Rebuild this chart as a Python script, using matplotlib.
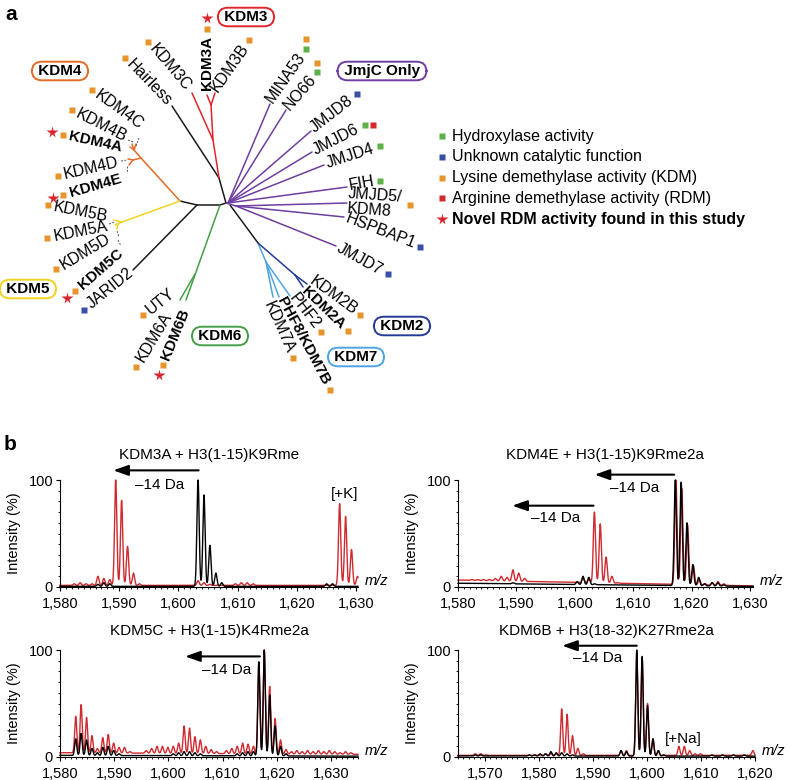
import numpy as np
import matplotlib
matplotlib.use("Agg")
import matplotlib.pyplot as plt
from matplotlib.textpath import TextPath
from matplotlib.font_manager import FontProperties
from matplotlib.ticker import MultipleLocator, FuncFormatter

plt.rcParams['font.family'] = ['Liberation Sans', 'DejaVu Sans']

W, H, DPI = 788, 780, 100

# ---------------- panel a: JmjC family tree (schematic layout, pixel units) ----------------
leaf_names = ["MINA53", "NO66", "JMJD8", "JMJD6", "JMJD4", "FIH", "JMJD5/\nKDM8", "HSPBAP1",
              "JMJD7", "KDM2B", "KDM2A", "PHF2", "PHF8/KDM7B", "KDM7A", "KDM3B", "KDM3A",
              "KDM3C", "Hairless", "KDM4C", "KDM4B", "KDM4A", "KDM4D", "KDM4E", "KDM5B",
              "KDM5A", "KDM5D", "KDM5C", "JARID2", "UTY", "KDM6A", "KDM6B"]
leaf_bold = [False, False, False, False, False, False, False, False,
             False, False, True, False, True, False, False, True,
             False, False, False, False, True, False, True, False,
             False, False, True, False, False, False, True]
# activity codes: H hydroxylase, U unknown, K KDM, R RDM, * novel RDM found here
leaf_marks = ["HK", "HK", "U", "HR", "H", "H", "K", "U",
              "U", "K", "K", "K", "K", "K", "K", "K*",
              "K", "K", "K", "K", "K*", "K", "K*", "K",
              "K", "K", "K*", "U", "K", "K", "K*"]
leaf_x = [269, 286, 312, 314, 326, 349, 348, 346, 338, 311, 304, 292, 281, 268, 214, 207,
          188, 169, 142, 126, 122, 118, 121, 108, 108, 109, 121, 132, 173, 168, 186]
leaf_y = [101, 108, 129, 151, 164, 186, 201, 218, 247, 279, 289, 295, 298, 302, 90, 90,
          89, 104, 126, 138, 148, 162, 178, 217, 226, 237, 251, 271, 291, 314, 309]
leaf_rot = [55, 49, 38, 27, 18, 10, -4, -21, -29, -36, -44, -52, -62, -66, 55, 90,
            -50, -46, -36, -27, -12.5, 13, 16, -11, 11, 31, 41, 39, 39, 59, 68]
leaf_side = list("RRRRRRRRRRRRRRRR") + list("LLLLLLLLLLLLLLL")
leaf_stack = {"MINA53": (0, -10), "NO66": (0, -9), "JMJD6": (8, 0)}

tree_edges = [
    (180, 201, 197, 205, "k"), (197, 205, 220, 205, "k"), (220, 205, 226, 203, "k"),
    (226, 203, 219, 178, "k"), (219, 178, 172, 106, "k"), (197, 205, 133, 270, "k"),
    (230, 205, 258, 243, "k"),
    (219, 178, 213, 140, "kdm3"), (213, 140, 192, 93, "kdm3"), (213, 140, 211, 105, "kdm3"),
    (211, 105, 207, 95, "kdm3"), (211, 105, 215, 93, "kdm3"),
    (180, 201, 141, 158, "kdm4"), (141, 158, 134, 150, "kdm4"), (134, 150, 130, 147, "kdm4"),
    (134, 150, 136, 144, "kdm4"), (134, 150, 132, 144, "kdm4"), (141, 158, 133, 160, "kdm4"),
    (133, 160, 128, 159, "kdm4"), (133, 160, 129, 165, "kdm4"),
    (180, 201, 122, 222, "kdm5"), (122, 222, 114, 220, "kdm5"), (122, 222, 115, 225, "kdm5"),
    (118, 224, 117, 229, "kdm5"),
    (220, 205, 186, 300, "kdm6"), (195, 274, 180, 300, "kdm6"),
    (258, 243, 266, 262, "kdm7"), (266, 262, 273, 297, "kdm7"), (266, 262, 279, 297, "kdm7"),
    (266, 262, 290, 296, "kdm7"),
    (258, 243, 295, 275, "kdm2"), (295, 275, 307, 284, "kdm2"), (295, 275, 303, 287, "kdm2"),
    (226, 203, 236, 206, "jmjc"),
    (228, 203, 270, 104, "jmjc"), (228, 203, 286, 110, "jmjc"), (228, 203, 311, 131, "jmjc"),
    (228, 203, 312, 152, "jmjc"), (228, 203, 324, 165, "jmjc"), (228, 203, 347, 187, "jmjc"),
    (236, 206, 347, 203, "jmjc"), (236, 206, 344, 217, "jmjc"), (236, 206, 336, 246, "jmjc"),
]
leader_edges = [(136, 146, 139, 138), (128, 140, 133, 142), (121, 161, 127, 160),
                (127, 166, 127, 173), (109, 224, 114, 222), (117, 231, 119, 237),
                (118, 240, 121, 246)]

group_names = ["KDM3", "KDM4", "JmjC Only", "KDM5", "KDM6", "KDM7", "KDM2"]
group_keys = ["kdm3", "kdm4", "jmjc", "kdm5", "kdm6", "kdm7", "kdm2"]
group_x = [246, 60, 382, 28, 220, 356, 402]
group_y = [17, 71, 71, 289, 336, 357, 326]

legend_labels = ["Hydroxylase activity", "Unknown catalytic function",
                 "Lysine demethylase activity (KDM)", "Arginine demethylase activity (RDM)",
                 "Novel RDM activity found in this study"]
legend_codes = ["H", "U", "K", "R", "*"]

branch_colors = {"k": "#1a1a1a", "kdm3": "#e0262c", "kdm4": "#e26c28", "kdm5": "#f2d321",
                 "kdm6": "#45a046", "kdm7": "#4ea4e2", "kdm2": "#253b95", "jmjc": "#6e3ea0"}
mark_colors = {"H": "#5cb246", "U": "#3a4ea6", "K": "#e8942c", "R": "#d8262e", "*": "#d8262e"}

# ---------------- panel b: MALDI spectra (peak lists) ----------------
tl_red_mz = [1582.4, 1583.4, 1584.4, 1585.4, 1586.4, 1587.4, 1588.4, 1589.4, 1590.4, 1591.4,
             1592.4, 1593.4, 1603.3, 1604.3, 1605.3, 1609.6, 1610.6, 1611.6, 1612.6,
             1627.2, 1628.2, 1629.2, 1630.2]
tl_red_int = [3, 4, 3, 3, 10, 8, 7, 100, 81, 38, 13, 3, 6, 4, 2.5, 3, 4, 4, 3, 78, 66, 35, 10]
tl_black_mz = [1586.4, 1587.4, 1588.4, 1603.3, 1604.3, 1605.3, 1606.3, 1607.3, 1625.0, 1626.0]
tl_black_int = [2.5, 4, 3, 100, 86, 39, 13, 4, 3, 3]

tr_red_mz = [1582.4, 1583.4, 1584.4, 1585.4, 1586.4, 1587.4, 1588.4, 1589.4, 1590.4, 1591.4,
             1592.4, 1600.4, 1601.4, 1602.4, 1603.35, 1604.35, 1605.35, 1606.35, 1607.35,
             1617.3, 1618.3, 1619.3, 1620.3, 1621.3, 1622.3, 1623.5, 1624.5, 1625.5]
tr_red_int = [7, 7, 7, 7, 8, 10, 9, 16, 13, 8, 5, 4, 8, 7, 70, 59, 28, 10, 4,
              100, 92, 58, 20, 7, 3, 4, 5, 3]
tr_black_mz = [1587.4, 1588.4, 1589.4, 1600.4, 1601.4, 1602.4, 1603.4,
               1617.2, 1618.2, 1619.2, 1620.2, 1621.2, 1622.2, 1623.5, 1624.5, 1625.5]
tr_black_int = [3, 3, 4, 5, 10, 9, 3, 100, 98, 60, 21, 9, 3, 4, 4, 2]

bl_red_mz = [1582.9, 1583.9, 1584.9, 1585.9, 1586.9, 1587.9, 1588.9, 1589.9, 1590.9, 1591.9,
             1592.9, 1595.9, 1596.9, 1597.9, 1598.9, 1599.9, 1600.9, 1601.9, 1602.9, 1603.9,
             1604.9, 1605.9, 1606.9, 1607.9, 1608.9, 1610.7, 1611.7, 1612.7, 1613.7, 1614.7,
             1615.7, 1616.7, 1617.7, 1618.7, 1619.7, 1620.7, 1621.7, 1622.7, 1623.7, 1624.7,
             1625.7, 1626.7, 1627.7, 1628.7, 1629.7, 1630.7, 1631.7, 1632.7, 1633.7]
bl_red_int = [38, 49, 37, 20, 8, 18, 21, 13, 9, 9, 5, 6, 8, 10, 10, 9, 10, 13, 29, 27,
              19, 16, 10, 7, 5, 6, 8, 10, 13, 12, 10, 88, 100, 66, 36, 16, 7, 5, 6, 5,
              6, 5, 6, 5, 6, 5, 4, 5, 4]
bl_black_mz = [1582.9, 1583.9, 1584.9, 1585.9, 1586.9, 1587.9, 1588.9, 1589.9, 1590.9,
               1600.9, 1601.9, 1602.9, 1603.9, 1604.9, 1605.9, 1612.7, 1613.7, 1614.7,
               1615.7, 1616.7, 1617.7, 1618.7, 1619.7, 1620.7, 1621.7]
bl_black_int = [17, 22, 16, 8, 4, 9, 10, 6, 3, 3, 4, 5, 5, 4, 3, 3, 4, 5, 5,
                89, 100, 58, 29, 10, 3]

br_red_mz = [1568.2, 1569.2, 1570.2, 1580.2, 1581.2, 1582.2, 1583.2, 1584.2, 1585.2, 1586.2,
             1587.2, 1588.2, 1595.2, 1596.2, 1598.1, 1599.1, 1600.1, 1601.1, 1602.1,
             1605.9, 1606.9, 1607.9, 1608.9, 1609.9, 1619.6]
br_red_int = [3, 3, 2, 2, 3, 3, 3, 45, 40, 20, 8, 3, 6, 6, 97, 93, 50, 17, 6,
              10, 10, 6, 3, 3, 6]
br_black_mz = [1568.2, 1569.2, 1578.2, 1579.2, 1580.2, 1581.2, 1582.2, 1583.2, 1584.2,
               1585.2, 1586.2, 1595.2, 1596.2, 1598.1, 1599.1, 1600.1, 1601.1, 1602.1,
               1603.1, 1612.0, 1614.0, 1616.0, 1618.0]
br_black_int = [2, 2, 2, 2, 3, 3, 5, 4, 4, 3, 2, 6, 5, 100, 94, 48, 17, 6, 2, 2, 2, 2, 2]

panel_titles = ["KDM3A + H3(1-15)K9Rme", "KDM4E + H3(1-15)K9Rme2a",
                "KDM5C + H3(1-15)K4Rme2a", "KDM6B + H3(18-32)K27Rme2a"]
panel_xlims = [(1580, 1630.3), (1580, 1630.5), (1580, 1635), (1565, 1620)]
# baselines (left, right) in % for red / black traces
red_base = [(1.5, 1.5), (6.5, 1.0), (4.0, 2.5), (1.5, 1.5)]
black_base = [(0.6, 0.6), (3.5, 0.6), (1.5, 0.8), (1.0, 0.8)]
# -14 Da arrows: (from m/z, to m/z, intensity level)
arrows = [[(1603.4, 1589.0, 109)], [(1617.0, 1603.4, 105), (1603.2, 1589.3, 76)],
          [(1616.9, 1603.1, 94)], [(1598.1, 1584.3, 104)]]
arrow_texts = [[(1596.8, 95)], [(1610.3, 92.5), (1596.7, 64.5)], [(1610.8, 81)], [(1590.9, 92.5)]]
extra_labels = [("[+K]", 1628.1, 87), None, None, ("[+Na]", 1606.8, 17)]

RED = "#cf2a30"
SIG = 0.19
LEAF_FS = 11.5
LEAF_FS_BOLD = 11

fig = plt.figure(figsize=(W / DPI, H / DPI), dpi=DPI)
ax0 = fig.add_axes([0, 0, 1, 1])
ax0.set_xlim(0, W)
ax0.set_ylim(H, 0)
ax0.axis("off")

ax0.text(11, 14, "a", fontsize=15, fontweight="bold", ha="center", va="center")
ax0.text(10, 444, "b", fontsize=15, fontweight="bold", ha="center", va="center")

for x1, y1, x2, y2, key in tree_edges:
    ax0.plot([x1, x2], [y1, y2], color=branch_colors[key], lw=1.1, solid_capstyle="round")
for x1, y1, x2, y2 in leader_edges:
    ax0.plot([x1, x2], [y1, y2], color="#555555", lw=0.7, ls=(0, (2, 1.5)))


def put_marks(px, py, ux, uy, codes, stack):
    for j, c in enumerate(codes):
        if j > 0:
            if c == "*" or stack is None:
                px, py = px + ux * 11, py + uy * 11
            else:
                px, py = px + stack[0], py + stack[1]
        if c == "*":
            ax0.plot(px, py, marker="*", ms=8.5, color=mark_colors[c], mec="none")
        else:
            ax0.plot(px, py, marker="s", ms=5, color=mark_colors[c], mec="none")


for name, x, y, rot, side, bold, marks in zip(leaf_names, leaf_x, leaf_y, leaf_rot,
                                               leaf_side, leaf_bold, leaf_marks):
    fw = "bold" if bold else "normal"
    fs = LEAF_FS_BOLD if bold else LEAF_FS
    ax0.text(x, y, name, rotation=rot, rotation_mode="anchor",
             ha="left" if side == "R" else "right", va="center",
             fontsize=fs, fontweight=fw, linespacing=0.95)
    fp = FontProperties(family="Liberation Sans", weight=fw, size=fs)
    length = max(TextPath((0, 0), s, prop=fp).get_extents().width for s in name.split("\n"))
    length *= DPI / 72.0
    r = np.deg2rad(rot)
    if side == "R":
        ux, uy = np.cos(r), -np.sin(r)
    else:
        ux, uy = -np.cos(r), np.sin(r)
    gap = length + 8
    put_marks(x + ux * gap, y + uy * gap, ux, uy, marks, leaf_stack.get(name))

for name, key, gx, gy in zip(group_names, group_keys, group_x, group_y):
    ax0.text(gx, gy, f" {name} ", fontsize=11, fontweight="bold", ha="center", va="center",
             bbox=dict(boxstyle="round,pad=0.15,rounding_size=0.65", fc="white",
                       ec=branch_colors[key], lw=1.4))

for i, (lab, code) in enumerate(zip(legend_labels, legend_codes)):
    ly = 136 + i * 20.8
    if code == "*":
        ax0.plot(442, ly, marker="*", ms=8.5, color=mark_colors[code], mec="none")
    else:
        ax0.plot(442, ly, marker="s", ms=5, color=mark_colors[code], mec="none")
    ax0.text(452, ly, lab, fontsize=11.5, va="center", ha="left",
             fontweight="bold" if code == "*" else "normal")

# ---------------- spectra ----------------
rects_px = [(60, 480, 358, 587), (458, 480, 753, 587), (60, 650, 358, 757), (458, 650, 755, 757)]
peaks = [(tl_red_mz, tl_red_int, tl_black_mz, tl_black_int),
         (tr_red_mz, tr_red_int, tr_black_mz, tr_black_int),
         (bl_red_mz, bl_red_int, bl_black_mz, bl_black_int),
         (br_red_mz, br_red_int, br_black_mz, br_black_int)]


def trace(x, mz, inten, base):
    b = np.interp(x, [x[0], x[-1]], base)
    y = b.copy()
    for m, h in zip(mz, inten):
        hb = np.interp(m, [x[0], x[-1]], base)
        y += max(h - hb, 0) * np.exp(-0.5 * ((x - m) / SIG) ** 2)
    return y


for i in range(4):
    l, t, r, b = rects_px[i]
    ax = fig.add_axes([l / W, (H - b) / H, (r - l) / W, (b - t) / H])
    ax.patch.set_alpha(0)
    xmin, xmax = panel_xlims[i]
    x = np.linspace(xmin, xmax, 5000)
    rmz, rint, kmz, kint = peaks[i]
    ax.plot(x, trace(x, rmz, rint, red_base[i]), color=RED, lw=1.0, clip_on=False)
    ax.plot(x, trace(x, kmz, kint, black_base[i]), color="black", lw=1.0, clip_on=False)
    ax.set_xlim(xmin, xmax)
    ax.set_ylim(0, 100)
    for s in ("top", "right"):
        ax.spines[s].set_visible(False)
    for s in ("left", "bottom"):
        ax.spines[s].set_linewidth(0.8)
    ax.set_yticks([0, 100])
    ax.yaxis.set_minor_locator(MultipleLocator(10))
    ax.xaxis.set_major_locator(MultipleLocator(10))
    ax.xaxis.set_minor_locator(MultipleLocator(1))
    ax.xaxis.set_major_formatter(FuncFormatter(lambda v, p: f"{v:,.0f}"))
    ax.tick_params(axis="both", which="major", labelsize=10.5, length=3, width=0.8)
    ax.tick_params(axis="both", which="minor", length=1.5, width=0.6)
    ax.tick_params(axis="x", which="major", pad=4)
    ax.tick_params(axis="y", which="major", pad=2)
    ax.set_ylabel("Intensity (%)", fontsize=10.5)
    ax.yaxis.set_label_coords(-0.155, 0.5)
    ax.yaxis.label.set_verticalalignment("center")
    ax.text(0.5, 1 + (25 if i < 2 else 19) / (b - t), panel_titles[i], transform=ax.transAxes,
            ha="center", va="center", fontsize=11)
    ax.annotate("m/z", xy=(1, 0), xycoords="axes fraction", xytext=(5, 4),
                textcoords="offset points", ha="left", va="center", fontsize=10.5,
                style="italic", annotation_clip=False)
    for (a0, a1, ay) in arrows[i]:
        ax.annotate("", xy=(a1, ay), xytext=(a0, ay),
                    arrowprops=dict(arrowstyle="-|>,head_length=0.9,head_width=0.32",
                                    color="black", lw=1.5, shrinkA=0, shrinkB=0),
                    annotation_clip=False)
    for (tx, ty) in arrow_texts[i]:
        ax.text(tx, ty, "\u201314 Da", ha="center", va="center", fontsize=11, clip_on=False)
    if extra_labels[i] is not None:
        lab, ex, ey = extra_labels[i]
        ax.text(ex, ey, lab, ha="center", va="center", fontsize=11, clip_on=False)

fig.savefig("out.png", dpi=DPI)
